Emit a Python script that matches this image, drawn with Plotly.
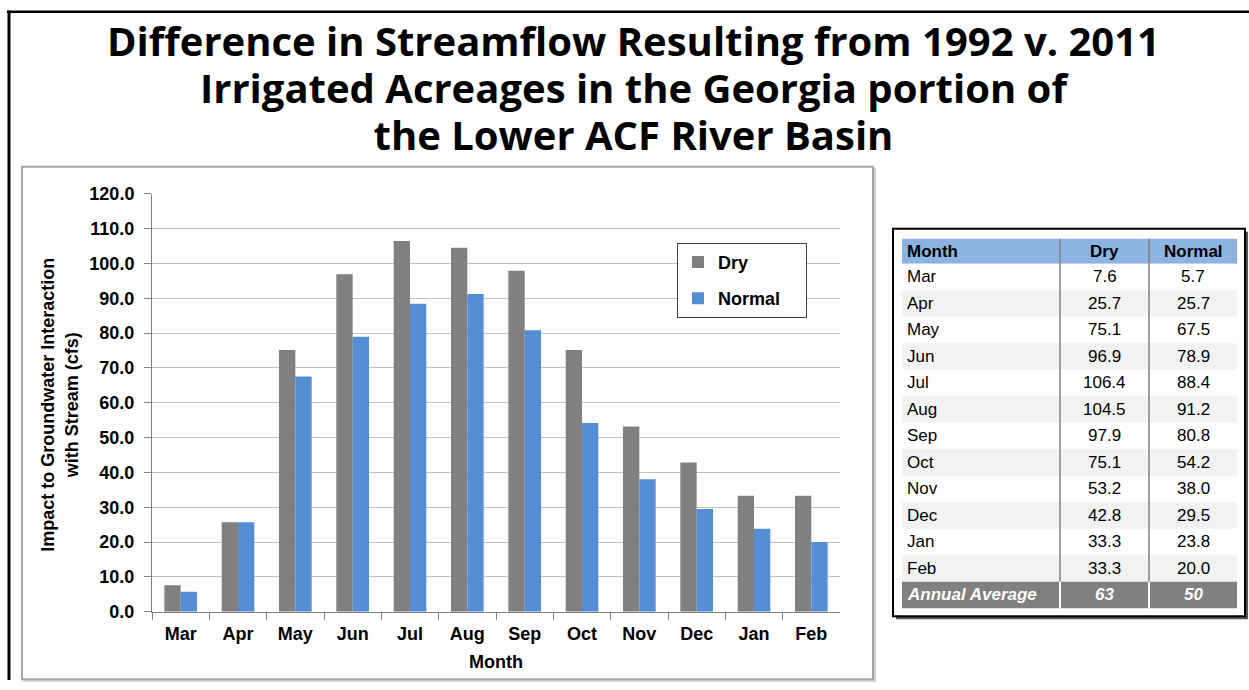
import plotly.graph_objects as go

# ---------------- data ----------------
months = ["Mar", "Apr", "May", "Jun", "Jul", "Aug", "Sep", "Oct", "Nov", "Dec", "Jan", "Feb"]
dry = [7.6, 25.7, 75.1, 96.9, 106.4, 104.5, 97.9, 75.1, 53.2, 42.8, 33.3, 33.3]
normal = [5.7, 25.7, 67.5, 78.9, 88.4, 91.2, 80.8, 54.2, 38.0, 29.5, 23.8, 20.0]
annual_avg_dry = "63"
annual_avg_normal = "50"
title_lines = ["Difference in Streamflow Resulting from 1992 v. 2011",
               "Irrigated Acreages in the Georgia portion of",
               "the Lower ACF River Basin"]
table_header = ["Month", "Dry", "Normal"]

# ---------------- layout helpers (reference pixel -> paper coords) ----------------
W, H = 1249, 690
OFF, SC = 10.3, 0.971   # vertical mapping of the photographed page
def X(px):
    return px / W
def Y(py):
    return 1 - ((py - OFF) / SC) / H

DRY_C = "#808080"
NORM_C = "#558ed5"
FONT = "Liberation Sans, Arial, sans-serif"
TFONT = "Open Sans, Lato, sans-serif"
PAD = "\u00a0\u00a0\u00a0\u00a0"

fig = go.Figure()
fig.add_trace(go.Bar(x=months, y=dry, name="Dry" + PAD, marker=dict(color=DRY_C, line=dict(width=0)),
                     legendgroup="a"))
fig.add_trace(go.Bar(x=months, y=normal, name="Normal" + PAD, marker=dict(color=NORM_C, line=dict(width=0)),
                     legendgroup="b"))

shapes = []
annotations = []

# outer slide frame
shapes.append(dict(type="line", xref="paper", yref="paper", x0=X(7), x1=X(1249), y0=Y(12), y1=Y(12),
                   line=dict(color="black", width=2.5)))
shapes.append(dict(type="line", xref="paper", yref="paper", x0=X(9), x1=X(9), y0=Y(11), y1=0,
                   line=dict(color="black", width=3)))

# chart box with soft shadow
shapes.append(dict(type="rect", xref="paper", yref="paper", x0=X(24), x1=X(875), y0=Y(169), y1=Y(681),
                   line=dict(color="#d0d0d0", width=2), fillcolor="#d8d8d8", layer="below"))
shapes.append(dict(type="rect", xref="paper", yref="paper", x0=X(22), x1=X(873), y0=Y(167), y1=Y(679.5),
                   line=dict(color="#a6a6a6", width=2), fillcolor="white", layer="below"))

# title: one annotation, line pitch set by the base size, glyphs enlarged per line
title_text = "<br>".join('<span style="font-size:40px"><b>%s</b></span>' % t for t in title_lines)
annotations.append(dict(text=title_text, xref="paper", yref="paper", x=X(634), y=Y(88),
                        xanchor="center", yanchor="middle", showarrow=False, align="center",
                        font=dict(family=TFONT, size=36, color="black")))

# y-axis title (two lines)
annotations.append(dict(text="<b>Impact to Groundwater Interaction<br>with Stream (cfs)</b>",
                        xref="paper", yref="paper", x=X(60), y=Y(405), xanchor="center", yanchor="middle",
                        textangle=-90, showarrow=False, font=dict(family=FONT, size=18, color="black")))

# ---------------- table ----------------
tx0, tx1 = 902, 1237
col_sep = [1060, 1149]
hdr_top, hdr_h, row_h = 239, 25, 26.5
rows = list(zip(months, dry, normal))
n_rows = len(rows)
tbl_bottom = hdr_top + hdr_h + (n_rows + 1) * row_h

shapes.append(dict(type="rect", xref="paper", yref="paper", x0=X(896), x1=X(1248), y0=Y(232), y1=Y(tbl_bottom + 11),
                   line=dict(width=0), fillcolor="#555555"))
shapes.append(dict(type="rect", xref="paper", yref="paper", x0=X(893), x1=X(1245), y0=Y(229), y1=Y(tbl_bottom + 8),
                   line=dict(color="black", width=2), fillcolor="white"))
shapes.append(dict(type="rect", xref="paper", yref="paper", x0=X(tx0), x1=X(tx1), y0=Y(hdr_top), y1=Y(hdr_top + hdr_h),
                   line=dict(width=0), fillcolor="#8db3e2"))
col_centers = [None, (col_sep[0] + col_sep[1]) / 2, (col_sep[1] + tx1) / 2]
hy = hdr_top + hdr_h / 2
annotations.append(dict(text="<b>%s</b>" % table_header[0], xref="paper", yref="paper", x=X(905), y=Y(hy),
                        xanchor="left", yanchor="middle", showarrow=False, font=dict(family=FONT, size=17, color="black")))
for k in (1, 2):
    annotations.append(dict(text="<b>%s</b>" % table_header[k], xref="paper", yref="paper", x=X(col_centers[k]), y=Y(hy),
                            xanchor="center", yanchor="middle", showarrow=False, font=dict(family=FONT, size=17, color="black")))
for i, (m, d, nv) in enumerate(rows):
    top = hdr_top + hdr_h + i * row_h
    fill = "white" if i % 2 == 0 else "#f2f2f2"
    shapes.append(dict(type="rect", xref="paper", yref="paper", x0=X(tx0), x1=X(tx1), y0=Y(top), y1=Y(top + row_h),
                       line=dict(width=0), fillcolor=fill))
    cy = top + row_h / 2
    annotations.append(dict(text=m, xref="paper", yref="paper", x=X(905), y=Y(cy), xanchor="left", yanchor="middle",
                            showarrow=False, font=dict(family=FONT, size=17, color="black")))
    for k, v in ((1, d), (2, nv)):
        annotations.append(dict(text="%.1f" % v, xref="paper", yref="paper", x=X(col_centers[k]), y=Y(cy),
                                xanchor="center", yanchor="middle", showarrow=False,
                                font=dict(family=FONT, size=17, color="black")))
top = hdr_top + hdr_h + n_rows * row_h
shapes.append(dict(type="rect", xref="paper", yref="paper", x0=X(tx0), x1=X(tx1), y0=Y(top), y1=Y(top + row_h),
                   line=dict(width=0), fillcolor="#808080"))
cy = top + row_h / 2
annotations.append(dict(text="<b><i>Annual Average</i></b>", xref="paper", yref="paper", x=X(905), y=Y(cy),
                        xanchor="left", yanchor="middle", showarrow=False, font=dict(family=FONT, size=17, color="white")))
for k, v in ((1, annual_avg_dry), (2, annual_avg_normal)):
    annotations.append(dict(text="<b><i>%s</i></b>" % v, xref="paper", yref="paper", x=X(col_centers[k]), y=Y(cy),
                            xanchor="center", yanchor="middle", showarrow=False,
                            font=dict(family=FONT, size=17, color="white")))
for cx in col_sep:
    shapes.append(dict(type="line", xref="paper", yref="paper", x0=X(cx), x1=X(cx), y0=Y(hdr_top), y1=Y(top),
                       line=dict(color="#808080", width=1.5)))
    shapes.append(dict(type="line", xref="paper", yref="paper", x0=X(cx), x1=X(cx), y0=Y(top), y1=Y(top + row_h),
                       line=dict(color="white", width=2)))

fig.update_layout(
    width=W, height=H,
    margin=dict(l=0, r=0, t=0, b=0),
    paper_bgcolor="white",
    plot_bgcolor="#f2f2f2",
    barmode="group", bargap=0.43, bargroupgap=0,
    font=dict(family=FONT, color="black"),
    showlegend=True,
    legend=dict(x=X(677), y=Y(243), xanchor="left", yanchor="top", bgcolor="white",
                bordercolor="#404040", borderwidth=1,
                font=dict(family=FONT, size=18, color="black", weight="bold"),
                tracegroupgap=10, traceorder="grouped", itemclick=False),
    xaxis=dict(domain=[X(152), X(840)], showgrid=False, showline=True, linecolor="#808080", linewidth=1,
               ticks="outside", ticklen=7, tickcolor="#808080", tickson="boundaries",
               tickfont=dict(family=FONT, size=18, color="black", weight="bold"), ticklabelstandoff=6,
               title=dict(text="<b>Month</b>", font=dict(family=FONT, size=18, color="black"), standoff=12)),
    yaxis=dict(domain=[Y(612), Y(194)], range=[0, 120], dtick=10, tickformat=".1f",
               showgrid=True, gridcolor="#c0c0c0", gridwidth=1, showline=True, linecolor="#808080",
               ticks="outside", ticklen=7, tickcolor="#808080", zeroline=False,
               tickfont=dict(family=FONT, size=18, color="black", weight="bold"), ticklabelstandoff=6),
    shapes=shapes,
    annotations=annotations,
)

post = ("document.body.style.margin='0';document.body.style.overflow='hidden';"
        "var gd=document.getElementById('{plot_id}');"
        "gd.style.position='absolute';gd.style.top='0px';gd.style.left='0px';")
fig.write_html("out.html", config={"displayModeBar": False}, post_script=post)
